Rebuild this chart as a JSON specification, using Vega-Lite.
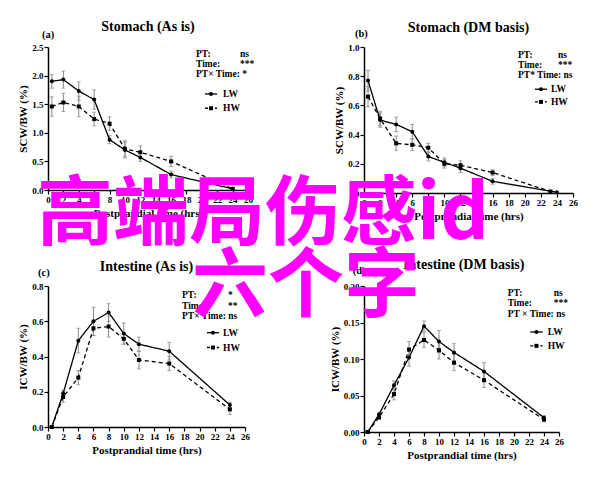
{
"$schema":"https://vega.github.io/schema/vega-lite/v6.json",
"background":"white",
"padding":{"left":17,"top":19,"right":5,"bottom":5},
"bounds":"flush",
"columns":2,
"align":"all",
"spacing":{"row":93,"column":107},
"config":{
 "view":{"stroke":null},
 "font":"Liberation Serif",
 "axis":{"domainColor":"black","domainWidth":1.5,"tickColor":"black","tickWidth":1.2,"tickSize":4,"tickCount":60,"labelFont":"Liberation Serif","labelFontWeight":"bold","labelFontSize":9,"labelColor":"black","titleFont":"Liberation Serif","titleFontWeight":"bold","titleFontSize":11,"titleColor":"black","grid":false,"labelPadding":1,"titlePadding":3,"labelOverlap":false,"labelFlush":false},
 "text":{"font":"Liberation Serif","fontWeight":"bold","fontSize":9.5,"color":"black"}
},
"datasets":{
 "a":[
  {"s":"LW","t":0.5,"v":1.9,"e":0.12},{"s":"LW","t":2,"v":1.93,"e":0.15},{"s":"LW","t":4,"v":1.73,"e":0.16},{"s":"LW","t":6,"v":1.58,"e":0.17},{"s":"LW","t":8,"v":0.88,"e":0.07},{"s":"LW","t":10,"v":0.7,"e":0.14},{"s":"LW","t":12,"v":0.57,"e":0.07},{"s":"LW","t":16,"v":0.27,"e":0.06},{"s":"LW","t":24,"v":0.02,"e":0.02},
  {"s":"HW","t":0.5,"v":1.46,"e":0.17},{"s":"HW","t":2,"v":1.53,"e":0.16},{"s":"HW","t":4,"v":1.46,"e":0.18},{"s":"HW","t":6,"v":1.24,"e":0.12},{"s":"HW","t":8,"v":1.16,"e":0.12},{"s":"HW","t":10,"v":0.72,"e":0.14},{"s":"HW","t":12,"v":0.66,"e":0.11},{"s":"HW","t":16,"v":0.5,"e":0.09},{"s":"HW","t":24,"v":0.02,"e":0.02}
 ],
 "b":[
  {"s":"LW","t":0.5,"v":0.77,"e":0.07},{"s":"LW","t":2,"v":0.5,"e":0.05},{"s":"LW","t":4,"v":0.47,"e":0.05},{"s":"LW","t":6,"v":0.42,"e":0.05},{"s":"LW","t":8,"v":0.25,"e":0.03},{"s":"LW","t":10,"v":0.21,"e":0.03},{"s":"LW","t":12,"v":0.17,"e":0.03},{"s":"LW","t":16,"v":0.08,"e":0.02},{"s":"LW","t":24,"v":0.005,"e":0.005},
  {"s":"HW","t":0.5,"v":0.66,"e":0.07},{"s":"HW","t":2,"v":0.51,"e":0.05},{"s":"HW","t":4,"v":0.34,"e":0.05},{"s":"HW","t":6,"v":0.33,"e":0.04},{"s":"HW","t":8,"v":0.31,"e":0.03},{"s":"HW","t":10,"v":0.2,"e":0.03},{"s":"HW","t":12,"v":0.19,"e":0.03},{"s":"HW","t":16,"v":0.14,"e":0.02},{"s":"HW","t":23.2,"v":0.01,"e":0.005}
 ],
 "c":[
  {"s":"LW","t":0.5,"v":0,"e":0},{"s":"LW","t":2,"v":0.19,"e":0.02},{"s":"LW","t":4,"v":0.49,"e":0.07},{"s":"LW","t":6,"v":0.6,"e":0.08},{"s":"LW","t":8,"v":0.65,"e":0.05},{"s":"LW","t":10,"v":0.53,"e":0.06},{"s":"LW","t":12,"v":0.47,"e":0.04},{"s":"LW","t":16,"v":0.43,"e":0.05},{"s":"LW","t":24,"v":0.125,"e":0.015},
  {"s":"HW","t":0.5,"v":0,"e":0},{"s":"HW","t":2,"v":0.17,"e":0.03},{"s":"HW","t":4,"v":0.28,"e":0.04},{"s":"HW","t":6,"v":0.56,"e":0.04},{"s":"HW","t":8,"v":0.57,"e":0.06},{"s":"HW","t":10,"v":0.5,"e":0.03},{"s":"HW","t":12,"v":0.38,"e":0.05},{"s":"HW","t":16,"v":0.36,"e":0.04},{"s":"HW","t":24,"v":0.1,"e":0.03}
 ],
 "d":[
  {"s":"LW","t":0.5,"v":0,"e":0},{"s":"LW","t":2,"v":0.024,"e":0.003},{"s":"LW","t":4,"v":0.064,"e":0.006},{"s":"LW","t":6,"v":0.102,"e":0.012},{"s":"LW","t":8,"v":0.145,"e":0.007},{"s":"LW","t":10,"v":0.124,"e":0.015},{"s":"LW","t":12,"v":0.109,"e":0.012},{"s":"LW","t":16,"v":0.083,"e":0.012},{"s":"LW","t":24,"v":0.0195,"e":0.003},
  {"s":"HW","t":0.5,"v":0,"e":0},{"s":"HW","t":2,"v":0.02,"e":0.002},{"s":"HW","t":4,"v":0.052,"e":0.008},{"s":"HW","t":6,"v":0.113,"e":0.011},{"s":"HW","t":8,"v":0.126,"e":0.01},{"s":"HW","t":10,"v":0.112,"e":0.012},{"s":"HW","t":12,"v":0.095,"e":0.011},{"s":"HW","t":16,"v":0.071,"e":0.01},{"s":"HW","t":24,"v":0.017,"e":0.003}
 ]
},
"concat":[
{
 "width":200,"height":143,
 "data":{"name":"a"},
 "layer":[
  {"mark":{"type":"errorbar","color":"#888","thickness":1,"ticks":{"size":4,"color":"#888"}},"encoding":{"x":{"field":"t","type":"quantitative","scale":{"domain":[0,26],"nice":false,"zero":false},"axis":{"values":[0,2,4,6,8,10,12,14,16,18,20,22,24,26],"format":"d","tickCount":60,"labelOverlap":false,"title":"Postprandial time (hrs)"}},"y":{"field":"v","type":"quantitative","scale":{"domain":[0,2.5],"nice":false},"axis":{"values":[0,0.5,1,1.5,2,2.5],"tickCount":60,"labelOverlap":false,"format":".1f","title":"SCW/BW (%)"}},"yError":{"field":"e"}}},
  {"mark":{"type":"line","color":"black","strokeWidth":1.3},"encoding":{"x":{"field":"t","type":"quantitative","scale":{"domain":[0,26],"nice":false,"zero":false},"axis":{"values":[0,2,4,6,8,10,12,14,16,18,20,22,24,26],"format":"d","tickCount":60,"labelOverlap":false,"title":"Postprandial time (hrs)"}},"y":{"field":"v","type":"quantitative","scale":{"domain":[0,2.5],"nice":false},"axis":{"values":[0,0.5,1,1.5,2,2.5],"tickCount":60,"labelOverlap":false,"format":".1f","title":"SCW/BW (%)"}},"strokeDash":{"field":"s","type":"nominal","scale":{"domain":["LW","HW"],"range":[[1,0],[4,3]]},"legend":null}}},
  {"mark":{"type":"point","filled":true,"color":"black","size":16,"opacity":1},"encoding":{"x":{"field":"t","type":"quantitative"},"y":{"field":"v","type":"quantitative"},"shape":{"field":"s","type":"nominal","scale":{"domain":["LW","HW"],"range":["circle","square"]},"legend":null}}},
  {"data":{"values":[{}]},"mark":{"type":"text","align":"center","baseline":"alphabetic","fontSize":14,"text":"Stomach (As is)"},"encoding":{"x":{"datum":13},"y":{"datum":2.786}}},
  {"data":{"values":[{}]},"mark":{"type":"text","align":"left","baseline":"middle","fontSize":10.5,"text":"(a)"},"encoding":{"x":{"datum":-0.78},"y":{"datum":2.714}}},
  {"data":{"values":[{}]},"mark":{"type":"text","align":"left","baseline":"top","lineHeight":10,"text":["PT:","Time:","PT× Time: *"]},"encoding":{"x":{"datum":19.24},"y":{"datum":2.464}}},
  {"data":{"values":[{}]},"mark":{"type":"text","align":"left","baseline":"top","lineHeight":10,"text":["ns","***"]},"encoding":{"x":{"datum":24.96},"y":{"datum":2.464}}},
  {"data":{"values":[{}]},"mark":{"type":"rule","color":"black","strokeWidth":1.3},"encoding":{"x":{"datum":20.41},"x2":{"datum":21.97},"y":{"datum":1.679}}},
  {"data":{"values":[{}]},"mark":{"type":"rule","color":"black","strokeWidth":1.3,"strokeDash":[3,2]},"encoding":{"x":{"datum":20.41},"x2":{"datum":21.97},"y":{"datum":1.429}}},
  {"data":{"values":[{}]},"mark":{"type":"point","filled":true,"color":"black","size":16,"opacity":1,"shape":"circle"},"encoding":{"x":{"datum":21.19},"y":{"datum":1.679}}},
  {"data":{"values":[{}]},"mark":{"type":"point","filled":true,"color":"black","size":16,"opacity":1,"shape":"square"},"encoding":{"x":{"datum":21.19},"y":{"datum":1.429}}},
  {"data":{"values":[{}]},"mark":{"type":"text","align":"left","baseline":"middle","text":"LW"},"encoding":{"x":{"datum":22.75},"y":{"datum":1.679}}},
  {"data":{"values":[{}]},"mark":{"type":"text","align":"left","baseline":"middle","text":"HW"},"encoding":{"x":{"datum":22.75},"y":{"datum":1.429}}}
 ]
},
{
 "width":209,"height":146,
 "data":{"name":"b"},
 "layer":[
  {"mark":{"type":"errorbar","color":"#888","thickness":1,"ticks":{"size":4,"color":"#888"}},"encoding":{"x":{"field":"t","type":"quantitative","scale":{"domain":[0,26],"nice":false,"zero":false},"axis":{"values":[0,2,4,6,8,10,12,14,16,18,20,22,24,26],"format":"d","tickCount":60,"labelOverlap":false,"title":"Postprandial time (hrs)"}},"y":{"field":"v","type":"quantitative","scale":{"domain":[0,1],"nice":false},"axis":{"values":[0,0.2,0.4,0.6,0.8,1],"tickCount":60,"labelOverlap":false,"labelExpr":"datum.value === 0 ? '0' : format(datum.value, '.1f')","title":"SCW/BW (%)"}},"yError":{"field":"e"}}},
  {"mark":{"type":"line","color":"black","strokeWidth":1.3},"encoding":{"x":{"field":"t","type":"quantitative","scale":{"domain":[0,26],"nice":false,"zero":false},"axis":{"values":[0,2,4,6,8,10,12,14,16,18,20,22,24,26],"format":"d","tickCount":60,"labelOverlap":false,"title":"Postprandial time (hrs)"}},"y":{"field":"v","type":"quantitative","scale":{"domain":[0,1],"nice":false},"axis":{"values":[0,0.2,0.4,0.6,0.8,1],"tickCount":60,"labelOverlap":false,"labelExpr":"datum.value === 0 ? '0' : format(datum.value, '.1f')","title":"SCW/BW (%)"}},"strokeDash":{"field":"s","type":"nominal","scale":{"domain":["LW","HW"],"range":[[1,0],[4,3]]},"legend":null}}},
  {"mark":{"type":"point","filled":true,"color":"black","size":16,"opacity":1},"encoding":{"x":{"field":"t","type":"quantitative"},"y":{"field":"v","type":"quantitative"},"shape":{"field":"s","type":"nominal","scale":{"domain":["LW","HW"],"range":["circle","square"]},"legend":null}}},
  {"data":{"values":[{}]},"mark":{"type":"text","align":"center","baseline":"alphabetic","fontSize":14,"text":"Stomach (DM basis)"},"encoding":{"x":{"datum":13},"y":{"datum":1.101}}},
  {"data":{"values":[{}]},"mark":{"type":"text","align":"left","baseline":"middle","fontSize":10.5,"text":"(b)"},"encoding":{"x":{"datum":-1.12},"y":{"datum":1.087}}},
  {"data":{"values":[{}]},"mark":{"type":"text","align":"left","baseline":"top","lineHeight":10,"text":["PT:","Time:","PT* Time: ns"]},"encoding":{"x":{"datum":19.16},"y":{"datum":0.98}}},
  {"data":{"values":[{}]},"mark":{"type":"text","align":"left","baseline":"top","lineHeight":10,"text":["ns","***"]},"encoding":{"x":{"datum":24.14},"y":{"datum":0.98}}},
  {"data":{"values":[{}]},"mark":{"type":"rule","color":"black","strokeWidth":1.3},"encoding":{"x":{"datum":21.27},"x2":{"datum":22.77},"y":{"datum":0.711}}},
  {"data":{"values":[{}]},"mark":{"type":"rule","color":"black","strokeWidth":1.3,"strokeDash":[3,2]},"encoding":{"x":{"datum":21.27},"x2":{"datum":22.77},"y":{"datum":0.624}}},
  {"data":{"values":[{}]},"mark":{"type":"point","filled":true,"color":"black","size":16,"opacity":1,"shape":"circle"},"encoding":{"x":{"datum":22.02},"y":{"datum":0.711}}},
  {"data":{"values":[{}]},"mark":{"type":"point","filled":true,"color":"black","size":16,"opacity":1,"shape":"square"},"encoding":{"x":{"datum":22.02},"y":{"datum":0.624}}},
  {"data":{"values":[{}]},"mark":{"type":"text","align":"left","baseline":"middle","text":"LW"},"encoding":{"x":{"datum":23.26},"y":{"datum":0.711}}},
  {"data":{"values":[{}]},"mark":{"type":"text","align":"left","baseline":"middle","text":"HW"},"encoding":{"x":{"datum":23.26},"y":{"datum":0.624}}}
 ]
},
{
 "width":197,"height":141,
 "data":{"name":"c"},
 "layer":[
  {"mark":{"type":"errorbar","color":"#888","thickness":1,"ticks":{"size":4,"color":"#888"}},"encoding":{"x":{"field":"t","type":"quantitative","scale":{"domain":[0,26],"nice":false,"zero":false},"axis":{"values":[0,2,4,6,8,10,12,14,16,18,20,22,24,26],"format":"d","tickCount":60,"labelOverlap":false,"title":"Postprandial time (hrs)"}},"y":{"field":"v","type":"quantitative","scale":{"domain":[0,0.8],"nice":false},"axis":{"values":[0,0.2,0.4,0.6,0.8],"tickCount":60,"labelOverlap":false,"format":".1f","title":"ICW/BW (%)"}},"yError":{"field":"e"}}},
  {"mark":{"type":"line","color":"black","strokeWidth":1.3},"encoding":{"x":{"field":"t","type":"quantitative","scale":{"domain":[0,26],"nice":false,"zero":false},"axis":{"values":[0,2,4,6,8,10,12,14,16,18,20,22,24,26],"format":"d","tickCount":60,"labelOverlap":false,"title":"Postprandial time (hrs)"}},"y":{"field":"v","type":"quantitative","scale":{"domain":[0,0.8],"nice":false},"axis":{"values":[0,0.2,0.4,0.6,0.8],"tickCount":60,"labelOverlap":false,"format":".1f","title":"ICW/BW (%)"}},"strokeDash":{"field":"s","type":"nominal","scale":{"domain":["LW","HW"],"range":[[1,0],[4,3]]},"legend":null}}},
  {"mark":{"type":"point","filled":true,"color":"black","size":16,"opacity":1},"encoding":{"x":{"field":"t","type":"quantitative"},"y":{"field":"v","type":"quantitative"},"shape":{"field":"s","type":"nominal","scale":{"domain":["LW","HW"],"range":["circle","square"]},"legend":null}}},
  {"data":{"values":[{}]},"mark":{"type":"text","align":"center","baseline":"alphabetic","fontSize":14,"text":"Intestine (As is)"},"encoding":{"x":{"datum":13},"y":{"datum":0.8845}}},
  {"data":{"values":[{}]},"mark":{"type":"text","align":"left","baseline":"middle","fontSize":10.5,"text":"(c)"},"encoding":{"x":{"datum":-1.32},"y":{"datum":0.873}}},
  {"data":{"values":[{}]},"mark":{"type":"text","align":"left","baseline":"top","lineHeight":10.5,"text":["PT:","Time:","PT× Time: ns"]},"encoding":{"x":{"datum":17.69},"y":{"datum":0.777}}},
  {"data":{"values":[{}]},"mark":{"type":"text","align":"left","baseline":"top","lineHeight":10.5,"text":["*","**"]},"encoding":{"x":{"datum":23.76},"y":{"datum":0.777}}},
  {"data":{"values":[{}]},"mark":{"type":"rule","color":"black","strokeWidth":1.3},"encoding":{"x":{"datum":20.98},"x2":{"datum":22.57},"y":{"datum":0.535}}},
  {"data":{"values":[{}]},"mark":{"type":"rule","color":"black","strokeWidth":1.3,"strokeDash":[3,2]},"encoding":{"x":{"datum":20.98},"x2":{"datum":22.57},"y":{"datum":0.451}}},
  {"data":{"values":[{}]},"mark":{"type":"point","filled":true,"color":"black","size":16,"opacity":1,"shape":"circle"},"encoding":{"x":{"datum":21.77},"y":{"datum":0.535}}},
  {"data":{"values":[{}]},"mark":{"type":"point","filled":true,"color":"black","size":16,"opacity":1,"shape":"square"},"encoding":{"x":{"datum":21.77},"y":{"datum":0.451}}},
  {"data":{"values":[{}]},"mark":{"type":"text","align":"left","baseline":"middle","text":"LW"},"encoding":{"x":{"datum":23.1},"y":{"datum":0.535}}},
  {"data":{"values":[{}]},"mark":{"type":"text","align":"left","baseline":"middle","text":"HW"},"encoding":{"x":{"datum":23.1},"y":{"datum":0.451}}}
 ]
},
{
 "width":195,"height":146,
 "data":{"name":"d"},
 "layer":[
  {"mark":{"type":"errorbar","color":"#888","thickness":1,"ticks":{"size":4,"color":"#888"}},"encoding":{"x":{"field":"t","type":"quantitative","scale":{"domain":[0,26],"nice":false,"zero":false},"axis":{"values":[0,2,4,6,8,10,12,14,16,18,20,22,24,26],"format":"d","tickCount":60,"labelOverlap":false,"title":"Postprandial time (hrs)"}},"y":{"field":"v","type":"quantitative","scale":{"domain":[0,0.2],"nice":false},"axis":{"values":[0,0.05,0.1,0.15,0.2],"tickCount":60,"labelOverlap":false,"format":".2f","title":"ICW/BW (%)"}},"yError":{"field":"e"}}},
  {"mark":{"type":"line","color":"black","strokeWidth":1.3},"encoding":{"x":{"field":"t","type":"quantitative","scale":{"domain":[0,26],"nice":false,"zero":false},"axis":{"values":[0,2,4,6,8,10,12,14,16,18,20,22,24,26],"format":"d","tickCount":60,"labelOverlap":false,"title":"Postprandial time (hrs)"}},"y":{"field":"v","type":"quantitative","scale":{"domain":[0,0.2],"nice":false},"axis":{"values":[0,0.05,0.1,0.15,0.2],"tickCount":60,"labelOverlap":false,"format":".2f","title":"ICW/BW (%)"}},"strokeDash":{"field":"s","type":"nominal","scale":{"domain":["LW","HW"],"range":[[1,0],[4,3]]},"legend":null}}},
  {"mark":{"type":"point","filled":true,"color":"black","size":16,"opacity":1},"encoding":{"x":{"field":"t","type":"quantitative"},"y":{"field":"v","type":"quantitative"},"shape":{"field":"s","type":"nominal","scale":{"domain":["LW","HW"],"range":["circle","square"]},"legend":null}}},
  {"data":{"values":[{}]},"mark":{"type":"text","align":"center","baseline":"alphabetic","fontSize":14,"text":"Intestine (DM basis)"},"encoding":{"x":{"datum":13.3},"y":{"datum":0.2233}}},
  {"data":{"values":[{}]},"mark":{"type":"text","align":"left","baseline":"middle","fontSize":10.5,"text":"(d)"},"encoding":{"x":{"datum":-1.51},"y":{"datum":0.2205}}},
  {"data":{"values":[{}]},"mark":{"type":"text","align":"left","baseline":"top","lineHeight":10.5,"text":["PT:","Time:","PT × Time: ns"]},"encoding":{"x":{"datum":19.16},"y":{"datum":0.1973}}},
  {"data":{"values":[{}]},"mark":{"type":"text","align":"left","baseline":"top","lineHeight":10.5,"text":["ns","***"]},"encoding":{"x":{"datum":25.3},"y":{"datum":0.1973}}},
  {"data":{"values":[{}]},"mark":{"type":"rule","color":"black","strokeWidth":1.3},"encoding":{"x":{"datum":22.17},"x2":{"datum":23.81},"y":{"datum":0.137}}},
  {"data":{"values":[{}]},"mark":{"type":"rule","color":"black","strokeWidth":1.3,"strokeDash":[3,2]},"encoding":{"x":{"datum":22.17},"x2":{"datum":23.81},"y":{"datum":0.118}}},
  {"data":{"values":[{}]},"mark":{"type":"point","filled":true,"color":"black","size":16,"opacity":1,"shape":"circle"},"encoding":{"x":{"datum":22.99},"y":{"datum":0.137}}},
  {"data":{"values":[{}]},"mark":{"type":"point","filled":true,"color":"black","size":16,"opacity":1,"shape":"square"},"encoding":{"x":{"datum":22.99},"y":{"datum":0.118}}},
  {"data":{"values":[{}]},"mark":{"type":"text","align":"left","baseline":"middle","text":"LW"},"encoding":{"x":{"datum":24.49},"y":{"datum":0.137}}},
  {"data":{"values":[{}]},"mark":{"type":"text","align":"left","baseline":"middle","text":"HW"},"encoding":{"x":{"datum":24.49},"y":{"datum":0.118}}},
  {"data":{"values":[{}]},"mark":{"type":"text","align":"left","baseline":"alphabetic","font":"Noto Sans CJK SC","fontWeight":"bold","fontSize":76,"color":"#ff00ff","text":"高端局伤感id"},"encoding":{"x":{"datum":-43.6},"y":{"datum":0.2637}}},
  {"data":{"values":[{}]},"mark":{"type":"text","align":"left","baseline":"alphabetic","font":"Noto Sans CJK SC","fontWeight":"bold","fontSize":76,"color":"#ff00ff","text":"六个字"},"encoding":{"x":{"datum":-22.93},"y":{"datum":0.1658}}}
 ]
}
]
}
